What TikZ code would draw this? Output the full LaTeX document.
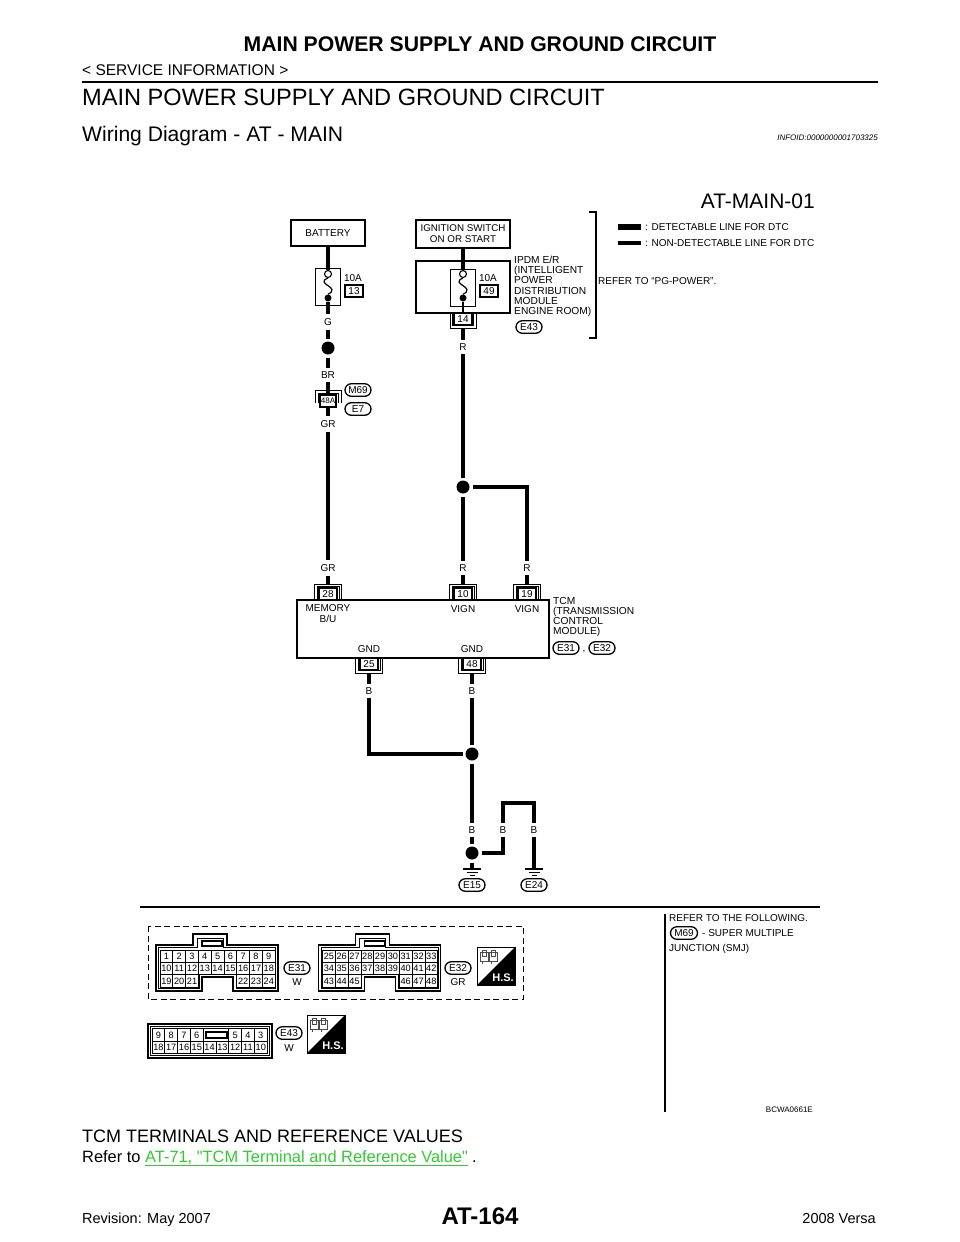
\documentclass[tikz,border=0pt]{standalone}
\usepackage{fontspec}
\setmainfont{Liberation Sans}
\newfontfamily\plainfont{Liberation Sans}
\usetikzlibrary{shapes.misc}
\newcommand{\fs}[1]{\fontsize{#1}{#1}\selectfont}
\definecolor{linkgreen}{HTML}{2FCB2F}
\tikzstyle{wire}=[line width=3.4pt]
\tikzstyle{thinwire}=[line width=2.2pt]
\tikzstyle{device}=[draw,line width=1.4pt,font=\fs{10},align=center,inner sep=0pt]
\tikzstyle{fusebox}=[draw,line width=1.4pt,minimum width=25pt,minimum height=37pt,inner sep=0pt]
\tikzstyle{numbox}=[draw,line width=1.1pt,font=\fs{10},minimum width=18pt,minimum height=12pt,inner sep=0pt]
\tikzstyle{pinbox}=[draw,line width=1.1pt,fill=white,font=\fs{10},minimum width=18pt,minimum height=12pt,inner sep=0pt]
\tikzstyle{wirelbl}=[font=\fs{10},inner sep=1pt,outer sep=3pt]
\tikzstyle{lbl}=[font=\fs{10},inner sep=0pt,align=left]
\tikzstyle{pill}=[draw,rounded rectangle,line width=1.3pt,font=\fs{10},minimum width=26pt,minimum height=12.5pt,inner sep=0pt]
\tikzstyle{dot}=[circle,fill=black,minimum size=13pt,inner sep=0pt,outer sep=3pt]
\tikzstyle{fusetop}=[circle,draw,fill=white,line width=1.1pt,minimum size=7pt,inner sep=0pt]
\tikzstyle{fusebot}=[circle,fill=black,minimum size=7pt,inner sep=0pt]
\tikzstyle{pincell}=[draw,line width=.8pt,font=\fs{9.2},minimum width=12.8pt,minimum height=12.4pt,inner sep=0pt]
\begin{document}
\begin{tikzpicture}[x=1pt,y=-1pt]
  \useasboundingbox (0,0) rectangle (960,1242);
  % page text
  \node[inner sep=0pt,font=\fs{21.2}\bfseries] (head) at (480,44) {MAIN POWER SUPPLY AND GROUND CIRCUIT};
  \node[inner sep=0pt,anchor=west,font=\fs{15.5}] (service) at (82,70) {< SERVICE INFORMATION >};
  \coordinate (ruleL) at (82,82);
  \coordinate (ruleR) at (878,82);
  \draw[line width=2.5pt] (ruleL) -- (ruleR);
  \node[inner sep=0pt,anchor=west,font=\fs{23.6}] (title) at (82,97) {MAIN POWER SUPPLY AND GROUND CIRCUIT};
  \node[inner sep=0pt,anchor=base west,font=\fs{21.1}] (sub) at (82,141) {Wiring Diagram - AT - MAIN};
  \node[inner sep=0pt,anchor=east,font=\fs{8}\itshape] (infoid) at (878,138) {INFOID:0000000001703325};
  \node[inner sep=0pt,anchor=east,font=\fs{21}] (sheet) at (815,201) {AT-MAIN-01};

  % battery side
  \node[device,minimum width=74pt,minimum height=26pt] (battery) at (328,233) {BATTERY};
  \node[fusebox] (fuse13) at (328,287) {};
  \node[fusetop] (top13) at (328,274) {};
  \node[fusebot] (bot13) at (328,298) {};
  \draw[line width=1.2pt] (top13.south) .. controls (314,284) and (342,287) .. (bot13.north);
  \node[lbl] (amp13) at (353,278) {10A};
  \node[numbox] (num13) at (354,291) {13};
  \draw[wire] (battery) -- (top13);
  \node[wirelbl] (lblG) at (328,322) {G};
  \node[dot] (dotG) at (328,348) {};
  \node[wirelbl] (lblBR) at (328,375) {BR};
  \draw[line width=.9pt] (315,403) -- (315,390.5) -- (341,390.5) -- (341,403);
  \draw[line width=.9pt] (318,403) -- (318,393) -- (338,393) -- (338,403);
  \node[pinbox,font=\fs{8},minimum width=16pt] (p48A) at (328,401) {48A};
  \node[pill] (m69) at (358,390) {M69};
  \node[pill] (e7) at (358,409) {E7};
  \node[wirelbl] (lblGRa) at (328,424) {GR};
  \node[wirelbl] (lblGRb) at (328,568) {GR};
  \draw[wire] (bot13) -- (lblG);
  \draw[wire] (lblG) -- (dotG);
  \draw[wire] (dotG) -- (lblBR);
  \draw[wire] (lblBR) -- (p48A);
  \draw[wire] (p48A) -- (lblGRa);
  \draw[wire] (lblGRa) -- (lblGRb);

  % ignition side
  \node[device,minimum width=94pt,minimum height=28pt,font=\fs{9.8}] (ign) at (463,234) {IGNITION SWITCH\\[1pt]ON OR START};
  \node[draw,line width=1.4pt,minimum width=94pt,minimum height=52pt,inner sep=0pt] (ipdm) at (463,287) {};
  \node[fusebox] (fuse49) at (463,288) {};
  \node[fusetop] (top49) at (463,274) {};
  \node[fusebot] (bot49) at (463,298) {};
  \draw[line width=1.2pt] (top49.south) .. controls (449,284) and (477,287) .. (bot49.north);
  \node[lbl] (amp49) at (488,278) {10A};
  \node[numbox] (num49) at (489,291) {49};
  \draw[wire] (ign) -- (top49);
  \draw[line width=.9pt] (450,313) -- (450,328) -- (476,328) -- (476,313);
  \draw[line width=.9pt] (452.5,313) -- (452.5,325.8) -- (473.5,325.8) -- (473.5,313);
  \node[pinbox] (p14) at (463,319) {14};
  \coordinate (t14) at (463,328);
  \node[wirelbl] (lblRa) at (463,347) {R};
  \node[dot] (dotR) at (463,487) {};
  \node[wirelbl] (lblRb) at (463,568) {R};
  \node[wirelbl] (lblRc) at (527,568) {R};
  \draw[thinwire] (bot49) -- (p14);
  \draw[wire] (t14) -- (lblRa);
  \draw[wire] (lblRa) -- (dotR);
  \draw[wire] (dotR) -- (lblRb);
  \draw[wire] (dotR) -| (lblRc);
  \node[lbl,anchor=north west,font=\fs{10.2}] (ipdmtxt) at (514,256) {IPDM E/R\\(INTELLIGENT\\POWER\\DISTRIBUTION\\MODULE\\ENGINE ROOM)};
  \node[pill] (e43) at (529,327) {E43};
  \coordinate (brTop) at (589,212);
  \coordinate (brBot) at (589,338);
  \draw[line width=1.3pt] (brTop) -- ++(7,0) -- ++(0,126) -- (brBot);
  \node[lbl,anchor=west] (pgpower) at (598,281) {REFER TO “PG-POWER”.};

  % legend
  \coordinate (legAl) at (618,227);
  \coordinate (legAr) at (641,227);
  \coordinate (legBl) at (618,243);
  \coordinate (legBr) at (641,243);
  \draw[line width=6pt] (legAl) -- (legAr);
  \draw[line width=3.5pt] (legBl) -- (legBr);
  \node[lbl,anchor=west] (legA) at (645,227) {: DETECTABLE LINE FOR DTC};
  \node[lbl,anchor=west] (legB) at (645,243) {: NON-DETECTABLE LINE FOR DTC};

  % tcm
  \node[draw,line width=1.4pt,minimum width=252pt,minimum height=58pt,inner sep=0pt] (tcm) at (423,629) {};
  \foreach \n/\x in {28/328,10/463,19/527} {
    \draw[line width=.9pt] (\x-13.5,599) -- (\x-13.5,584) -- (\x+13.5,584) -- (\x+13.5,599);
    \draw[line width=.9pt] (\x-11,599) -- (\x-11,586.5) -- (\x+11,586.5) -- (\x+11,599);
    \node[pinbox] (p\n) at (\x,594) {\n};
    \coordinate (t\n) at (\x,584);
  }
  \foreach \n/\x in {25/369,48/472} {
    \draw[line width=.9pt] (\x-13.5,659) -- (\x-13.5,673) -- (\x+13.5,673) -- (\x+13.5,659);
    \draw[line width=.9pt] (\x-11,659) -- (\x-11,670.5) -- (\x+11,670.5) -- (\x+11,659);
    \node[pinbox] (p\n) at (\x,664) {\n};
    \coordinate (t\n) at (\x,673);
  }
  \draw[wire] (lblGRb) -- (t28);
  \draw[wire] (lblRb) -- (t10);
  \draw[wire] (lblRc) -- (t19);
  \node[lbl,align=center] (memory) at (328,614) {MEMORY\\[1pt]B/U};
  \node[lbl] (vigna) at (463,609) {VIGN};
  \node[lbl] (vignb) at (527,609) {VIGN};
  \node[lbl] (gnda) at (369,649) {GND};
  \node[lbl] (gndb) at (472,649) {GND};
  \node[lbl,anchor=north west,font=\fs{10.2}] (tcmtxt) at (553,597) {TCM\\(TRANSMISSION\\CONTROL\\MODULE)};
  \node[pill] (e31) at (566,648) {E31};
  \node[lbl] (comma) at (584,652) {,};
  \node[pill] (e32) at (602,648) {E32};

  % grounds
  \node[wirelbl] (lblBa) at (369,691) {B};
  \node[wirelbl] (lblBb) at (472,691) {B};
  \node[dot] (dotB) at (472,754) {};
  \node[wirelbl] (lblBc) at (472,830) {B};
  \node[wirelbl] (lblBd) at (503,830) {B};
  \node[wirelbl] (lblBe) at (534,830) {B};
  \node[dot] (dotE15) at (472,853) {};
  \coordinate (topB) at (503,803);
  \coordinate (topC) at (534,803);
  \coordinate (g15) at (472,869);
  \coordinate (g24) at (534,869);
  \draw[wire] (t25) -- (lblBa);
  \draw[wire] (t48) -- (lblBb);
  \draw[wire] (lblBa) |- (dotB);
  \draw[wire] (lblBb) -- (dotB);
  \draw[wire] (dotB) -- (lblBc);
  \draw[wire] (lblBc) -- (dotE15);
  \draw[wire] (dotE15) -- (g15);
  \draw[wire] (dotE15) -| (lblBd);
  \draw[wire] (lblBd) -- (topB) -- (topC) -- (lblBe);
  \draw[wire] (lblBe) -- (g24);
  \foreach \g in {g15,g24} {
    \draw[line width=1.4pt] ([shift={(-9,0)}]\g) -- ([shift={(9,0)}]\g);
    \draw[line width=1pt] ([shift={(-5.5,3)}]\g) -- ([shift={(5.5,3)}]\g);
    \draw[line width=1pt] ([shift={(-2.5,6)}]\g) -- ([shift={(2.5,6)}]\g);
  }
  \node[pill] (e15) at (472,885) {E15};
  \node[pill] (e24) at (534,885) {E24};

  % lower frame
  \coordinate (divL) at (140,907);
  \coordinate (divR) at (820,907);
  \coordinate (vertT) at (665,914);
  \coordinate (vertB) at (665,1112);
  \draw[line width=1.5pt] (divL) -- (divR);
  \draw[line width=1.5pt] (vertT) -- (vertB);
  \node[lbl,anchor=west] (follow) at (669,918) {REFER TO THE FOLLOWING.};
  \node[pill,minimum width=27pt] (m69b) at (684,933) {M69};
  \node[lbl,anchor=west] (smj) at (702,933) {- SUPER MULTIPLE};
  \node[lbl,anchor=west] (junction) at (669,949) {JUNCTION (SMJ)};
  \draw[line width=1pt,dashed,dash pattern=on 6pt off 3.5pt] (148,926) rectangle (523,999);

  % harness connectors e31 e32
  \foreach \ox/\base in {0/0,162.5/24} {
    \begin{scope}[xshift=\ox]
      \draw[line width=1.1pt] (156,945) -- (193,945) -- (193,934) -- (227,934) -- (227,945) -- (278,945) -- (278,991) -- (233,991) -- (233,977) -- (202,977) -- (202,991) -- (156,991) -- cycle;
      \draw[line width=.9pt] (158.5,947.5) -- (197,947.5) -- (197,938) -- (223,938) -- (223,947.5) -- (275.5,947.5) -- (275.5,988.5) -- (236,988.5) -- (236,974) -- (199,974) -- (199,988.5) -- (158.5,988.5) -- cycle;
      \draw[line width=1.1pt] (202,941) rectangle (222,946);
      \foreach \c in {0,...,8} {
        \foreach \r in {0,1} {
          \pgfmathtruncatemacro{\n}{\base+1+9*\r+\c}
          \node[pincell] (c\n) at ({166.4+12.8*\c},{956.2+12.4*\r}) {\n};
        }
      }
      \foreach \c/\k in {0/19,1/20,2/21,6/22,7/23,8/24} {
        \pgfmathtruncatemacro{\n}{\base+\k}
        \node[pincell] (c\n) at ({166.4+12.8*\c},981) {\n};
      }
    \end{scope}
  }
  \node[pill] (e31b) at (297,968) {E31};
  \node[lbl] (e31w) at (297,982) {W};
  \node[pill] (e32b) at (458,968) {E32};
  \node[lbl] (e32gr) at (458,982) {GR};

  % connector e43
  \draw[line width=1.1pt] (148,1024) rectangle (272,1058);
  \draw[line width=.9pt] (150.5,1026.5) rectangle (269.5,1055.5);
  \foreach \c/\k in {0/9,1/8,2/7,3/6,6/5,7/4,8/3} {
    \node[pincell] (t\k) at ({158.4+12.8*\c},1035) {\k};
  }
  \foreach \c/\k in {0/18,1/17,2/16,3/15,4/14,5/13,6/12,7/11,8/10} {
    \node[pincell] (u\k) at ({158.4+12.8*\c},1047.4) {\k};
  }
  \draw[line width=.8pt] (203.2,1028.8) rectangle (228.8,1041.2);
  \draw[line width=1.1pt] (206,1032) rectangle (227,1038);
  \node[pill] (e43b) at (289,1033) {E43};
  \node[lbl] (e43w) at (289,1048) {W};

  % hs marks
  \foreach \hx/\hy/\hn in {477/947/hsa,307/1015/hsb} {
    \begin{scope}[shift={(\hx,\hy)}]
      \fill (38,0) -- (38,38) -- (0,38) -- cycle;
      \draw[line width=1pt] (0,0) rectangle (38,38);
      \foreach \ix in {3,12} {
        \draw[line width=.8pt,gray!60!black] (\ix,5) rectangle ++(8,9);
        \draw[line width=.8pt,gray!60!black] (\ix+2,3) rectangle ++(4,6);
        \draw[line width=.8pt,gray!60!black] (\ix+2,14) -- ++(0,3);
      }
      \node[inner sep=0pt,text=white,font=\fs{11}\bfseries] (\hn) at (26,31) {H.S.};
    \end{scope}
  }

  \node[inner sep=0pt,anchor=east,font=\fs{8}] (code) at (813,1110) {BCWA0661E};
  \node[inner sep=0pt,anchor=west,font=\fs{18}] (terminals) at (82,1136) {TCM TERMINALS AND REFERENCE VALUES};
  \node[inner sep=0pt,anchor=base west,font=\fs{16.4}] (refer) at (82,1162) {Refer to};
  \node[inner sep=0pt,anchor=base west,font=\fs{16.4}\plainfont,text=linkgreen] (link) at (145,1162) {\underline{AT-71, "TCM Terminal and Reference Value"}};
  \node[inner sep=0pt,anchor=base west,font=\fs{16.4}] (stop) at (472,1162) {.};
  \node[inner sep=0pt,font=\fs{24}\bfseries] (pageno) at (480,1216) {AT-164};
  \node[inner sep=0pt,anchor=base west,font=\fs{14.5}] (rev) at (82,1223) {Revision: May 2007};
  \node[inner sep=0pt,anchor=base east,font=\fs{14.5}] (versa) at (876,1223) {2008 Versa};
\end{tikzpicture}
\end{document}
